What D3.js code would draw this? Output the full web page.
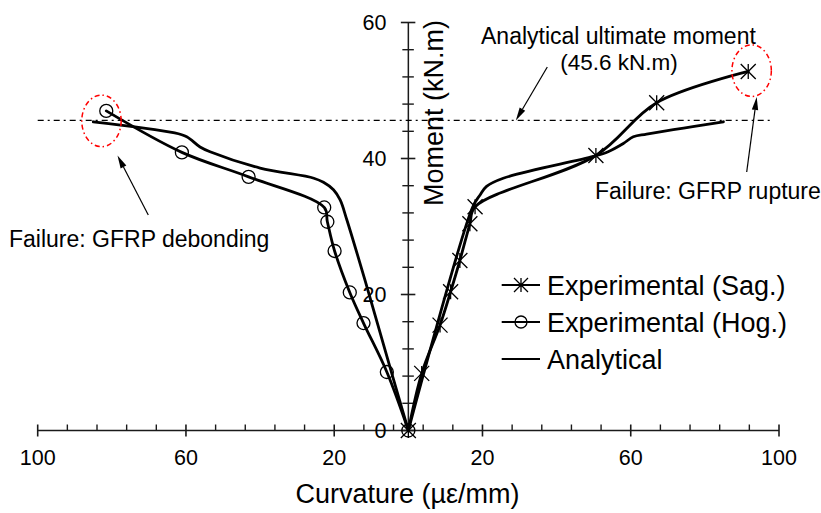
<!DOCTYPE html>
<html>
<head>
<meta charset="utf-8">
<script src="https://cdn.jsdelivr.net/npm/d3@7"></script>
<style>
  body { margin: 0; background: #fff; }
  text { font-family: Arial, "Liberation Sans", sans-serif; fill: #000; }
</style>
</head>
<body>
<svg id="chart" width="821" height="513"></svg>
<script>
// Moment–curvature response; hogging curvatures are stored as negative values
// so they plot on the left half of the mirrored curvature axis.
const sagExpCurvature = [0, 3.6, 8.55, 11.4, 13.9, 16.6, 18.0, 50.6, 67.0, 91.7];
const sagExpMoment    = [0, 8.4, 15.5, 20.4, 25.0, 30.4, 32.9, 40.45, 48.2, 52.8];

const hogExpCurvature = [0, -5.8, -12.1, -15.8, -19.9, -21.85, -22.7, -43.1, -61.1, -81.5];
const hogExpMoment    = [0, 8.6, 15.8, 20.3, 26.4, 30.7, 32.8, 37.3, 40.9, 47.0];

const anaSagCurvature = [0, 17.3, 19.3, 21.1, 25.6, 49.9, 53.9, 58.0, 60.7, 64.3, 85.0];
const anaSagMoment    = [0, 32.8, 34.6, 35.9, 37.1, 40.3, 41.0, 42.2, 43.2, 43.6, 45.4];

const anaHogCurvature = [0, -4.9, -11.7, -16.6, -18.4, -20.2, -22.9, -25.5, -40.0, -53.5, -56.2, -59.8, -63.4, -85.0];
const anaHogMoment    = [0, 9.2, 22.1, 31.0, 33.9, 35.4, 36.5, 37.1, 38.6, 41.0, 41.7, 43.2, 43.8, 45.4];

const ultimateMoment = 45.6;

const xMajorTicks = [-100, -60, -20, 20, 60, 100];
const xMinorTicks = d3.range(-100, 100.1, 8);
const yMajorTicks = [0, 20, 40, 60];
const yMinorTicks = d3.range(0, 60.1, 4);

const legendLabels = ["Experimental (Sag.)", "Experimental (Hog.)", "Analytical"];

const svg = d3.select("#chart");
const x = d3.scaleLinear().domain([-100, 100]).range([37.7, 779]);
const y = d3.scaleLinear().domain([0, 60]).range([430.5, 22.5]);

const zip = (a, b) => a.map((v, i) => [v, b[i]]);
const line = d3.line()
  .x(d => x(d[0])).y(d => y(d[1]))
  .curve(d3.curveCatmullRom.alpha(0.5));

const axisColor = "#1a1a1a";

// ---- curvature axis (horizontal, crossing at M = 0)
const gx = svg.append("g");
gx.append("line")
  .attr("x1", x(-100)).attr("x2", x(100))
  .attr("y1", y(0)).attr("y2", y(0))
  .attr("stroke", axisColor).attr("stroke-width", 1.5);
gx.selectAll("line.minor").data(xMinorTicks.filter(v => !xMajorTicks.includes(v)))
  .join("line").attr("class", "minor")
  .attr("x1", d => x(d)).attr("x2", d => x(d))
  .attr("y1", y(0) - 6).attr("y2", y(0))
  .attr("stroke", axisColor).attr("stroke-width", 1.4);
gx.selectAll("line.major").data(xMajorTicks)
  .join("line").attr("class", "major")
  .attr("x1", d => x(d)).attr("x2", d => x(d))
  .attr("y1", y(0) - 6).attr("y2", y(0) + 6)
  .attr("stroke", axisColor).attr("stroke-width", 1.6);
gx.selectAll("text").data(xMajorTicks)
  .join("text")
  .attr("x", d => x(d)).attr("y", 464.5)
  .attr("text-anchor", "middle").attr("font-size", 21.5)
  .text(d => Math.abs(d));

// ---- moment axis (vertical, at zero curvature)
const gy = svg.append("g");
gy.append("line")
  .attr("x1", x(0)).attr("x2", x(0))
  .attr("y1", y(0)).attr("y2", y(60))
  .attr("stroke", axisColor).attr("stroke-width", 1.5);
gy.selectAll("line.minor").data(yMinorTicks.filter(v => !yMajorTicks.includes(v)))
  .join("line").attr("class", "minor")
  .attr("x1", x(0) - 6).attr("x2", x(0) + 5.5)
  .attr("y1", d => y(d)).attr("y2", d => y(d))
  .attr("stroke", axisColor).attr("stroke-width", 1.4);
gy.selectAll("line.major").data(yMajorTicks)
  .join("line").attr("class", "major")
  .attr("x1", x(0) - 7.5).attr("x2", x(0) + 7)
  .attr("y1", d => y(d)).attr("y2", d => y(d))
  .attr("stroke", axisColor).attr("stroke-width", 1.6);
gy.selectAll("text").data(yMajorTicks)
  .join("text")
  .attr("x", x(0) - 22).attr("y", d => y(d) + 7.5)
  .attr("text-anchor", "end").attr("font-size", 21.5)
  .text(d => d);

// axis titles
svg.append("text")
  .attr("x", 407.5).attr("y", 502.5)
  .attr("text-anchor", "middle").attr("font-size", 27)
  .text("Curvature (\u00b5\u03b5/mm)");
svg.append("text")
  .attr("transform", "translate(443,113) rotate(-90)")
  .attr("text-anchor", "middle").attr("font-size", 27)
  .text("Moment (kN.m)");

// ---- analytical ultimate moment reference line
svg.append("line")
  .attr("x1", x(-100)).attr("x2", x(97.5))
  .attr("y1", y(ultimateMoment)).attr("y2", y(ultimateMoment))
  .attr("stroke", "#000").attr("stroke-width", 1.3)
  .attr("stroke-dasharray", "6,4,2,4");

// ---- curves
const curveStyle = s => s.attr("fill", "none").attr("stroke", "#000")
  .attr("stroke-width", 2.8).attr("stroke-linejoin", "round").attr("stroke-linecap", "round");

svg.append("path").datum(zip(anaHogCurvature, anaHogMoment)).attr("d", line).call(curveStyle);
svg.append("path").datum(zip(anaSagCurvature, anaSagMoment)).attr("d", line).call(curveStyle);
svg.append("path").datum(zip(hogExpCurvature, hogExpMoment)).attr("d", line).call(curveStyle);
svg.append("path").datum(zip(sagExpCurvature, sagExpMoment)).attr("d", line).call(curveStyle);

// markers
const starPath = s => `M${-s},${-s}L${s},${s}M${-s},${s}L${s},${-s}M0,${-s}L0,${s}`;
svg.append("g").selectAll("path").data(zip(sagExpCurvature, sagExpMoment))
  .join("path")
  .attr("transform", d => `translate(${x(d[0])},${y(d[1])})`)
  .attr("d", starPath(7.5))
  .attr("fill", "none").attr("stroke", "#000").attr("stroke-width", 1.3);
svg.append("g").selectAll("circle").data(zip(hogExpCurvature, hogExpMoment))
  .join("circle")
  .attr("cx", d => x(d[0])).attr("cy", d => y(d[1])).attr("r", 6.5)
  .attr("fill", "none").attr("stroke", "#000").attr("stroke-width", 1.3);

// ---- failure highlights (red dash-dot ellipses around the last experimental points)
const lastHog = [hogExpCurvature.at(-1), hogExpMoment.at(-1)];
const lastSag = [sagExpCurvature.at(-1), sagExpMoment.at(-1)];
[[lastHog, -4.8, 10], [lastSag, 3.4, -0.8]].forEach(([p, dx, dy]) => {
  svg.append("ellipse")
    .attr("cx", x(p[0]) + dx).attr("cy", y(p[1]) + dy)
    .attr("rx", 19.7).attr("ry", 25.8)
    .attr("fill", "none").attr("stroke", "#ff0000").attr("stroke-width", 1.5)
    .attr("stroke-dasharray", "5,3,1.5,3");
});

// ---- annotation arrows
function arrow(x1, y1, x2, y2) {
  const a = Math.atan2(y2 - y1, x2 - x1), L = 13, w = 3.2;
  const bx = x2 - L * Math.cos(a), by = y2 - L * Math.sin(a);
  svg.append("line").attr("x1", x1).attr("y1", y1).attr("x2", bx).attr("y2", by)
    .attr("stroke", "#000").attr("stroke-width", 1.2);
  svg.append("path")
    .attr("d", `M${x2},${y2}L${bx + w * Math.sin(a)},${by - w * Math.cos(a)}L${bx - w * Math.sin(a)},${by + w * Math.cos(a)}Z`)
    .attr("fill", "#000");
}
arrow(148.3, 215, 117.5, 155.5);
arrow(547.3, 67, x(29), y(ultimateMoment));
arrow(746.7, 172, 756.7, 97);

// annotation texts
const note = (tx, ty, str, anchor = "start", size = 23) => svg.append("text")
  .attr("x", tx).attr("y", ty).attr("font-size", size).attr("text-anchor", anchor).text(str);
note(481, 44, "Analytical ultimate moment");
note(619, 69.5, "(45.6 kN.m)", "middle", 22.5);
note(595, 199, "Failure: GFRP rupture");
note(9, 247, "Failure: GFRP debonding");

// ---- legend
const legend = svg.append("g");
const rowsY = [285, 322, 359];
legendLabels.forEach((label, i) => {
  const ly = rowsY[i];
  legend.append("line").attr("x1", 501.7).attr("x2", 540).attr("y1", ly).attr("y2", ly)
    .attr("stroke", "#000").attr("stroke-width", 2.2);
  if (i === 0) {
    legend.append("path").attr("transform", `translate(521,${ly})`).attr("d", starPath(7))
      .attr("fill", "none").attr("stroke", "#000").attr("stroke-width", 1.3);
  } else if (i === 1) {
    legend.append("circle").attr("cx", 521).attr("cy", ly).attr("r", 6)
      .attr("fill", "none").attr("stroke", "#000").attr("stroke-width", 1.3);
  }
  legend.append("text").attr("x", 547).attr("y", ly + 10).attr("font-size", 27).text(label);
});
</script>
</body>
</html>
